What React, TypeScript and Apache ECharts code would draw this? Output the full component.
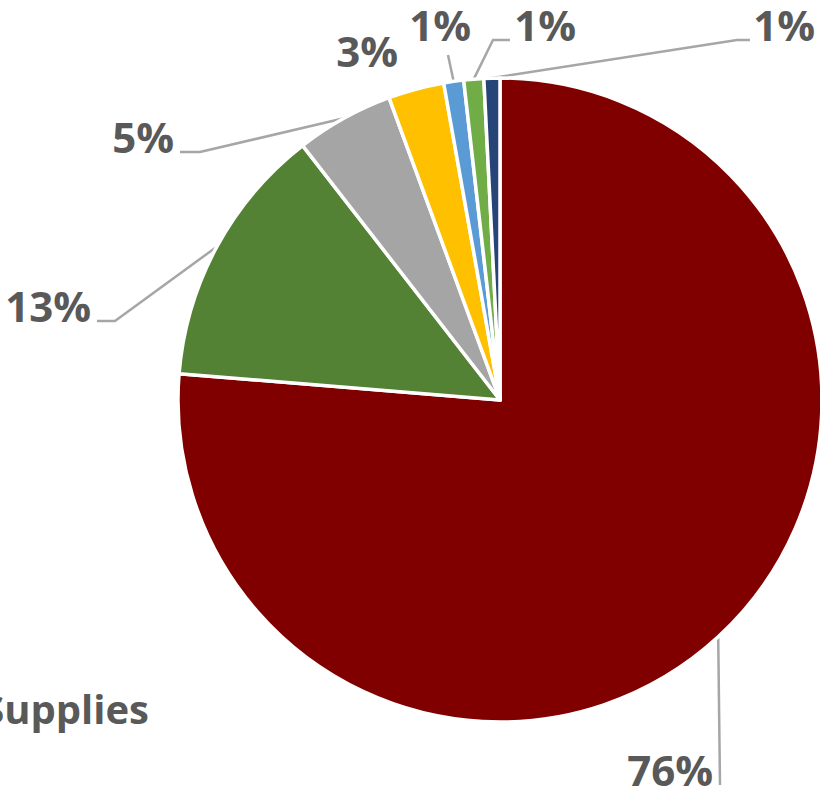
import React, { useEffect, useRef } from "react";
import * as echarts from "echarts";

const categories = ["A", "B", "C", "D", "E", "F", "G"];
const values = [76.3, 13.2, 4.9, 2.8, 1.0, 1.0, 0.8];
const colors = ["#800000", "#548235", "#a5a5a5", "#ffc000", "#5b9bd5", "#70ad47", "#264478"];

// label layout: [rightX, midY, bendPoints]
const labelPos: { x: number; y: number; pts: number[][] | null }[] = [
  { x: 713, y: 769, pts: [[720, 785], [720, 785]] },
  { x: 91, y: 305, pts: [[115, 321], [97, 321]] },
  { x: 174, y: 136, pts: [[200, 152], [180, 152]] },
  { x: 398, y: 50, pts: null },
  { x: 471, y: 24, pts: [[448, 55], [448, 55]] },
  { x: 576, y: 24, pts: [[493, 40], [510, 40]] },
  { x: 815, y: 24, pts: [[737, 40], [750, 40]] },
];

export default function App() {
  const ref = useRef<HTMLDivElement>(null);
  useEffect(() => {
    const chart = echarts.init(ref.current!, null, { renderer: "svg" });
    const total = values.reduce((a, b) => a + b, 0);
    chart.setOption({
      animation: false,
      backgroundColor: "#ffffff",
      graphic: [
        {
          type: "text",
          x: 149,
          y: 708,
          style: {
            text: "Supplies",
            textAlign: "right",
            textVerticalAlign: "middle",
            font: "bold 40px 'Open Sans'",
            fill: "#595959",
          },
        },
      ],
      series: [
        {
          type: "pie",
          center: [500, 400],
          radius: 322,
          startAngle: 90,
          clockwise: true,
          avoidLabelOverlap: false,
          itemStyle: { borderColor: "#ffffff", borderWidth: 3.5 },
          label: {
            show: true,
            position: "outside",
            formatter: (p: any) => Math.round((p.value / total) * 100) + "%",
            fontFamily: "'Open Sans'",
            fontWeight: "bold",
            fontSize: 42,
            lineHeight: 34,
            color: "#595959",
          },
          labelLine: {
            show: true,
            lineStyle: { color: "#a6a6a6", width: 2.5 },
          },
          labelLayout: (params: any) => {
            const lp = labelPos[params.dataIndex];
            const start = params.labelLinePoints ? params.labelLinePoints[0] : [0, 0];
            return {
              x: lp.x,
              y: lp.y,
              align: "right",
              verticalAlign: "middle",
              labelLinePoints: lp.pts ? [start, lp.pts[0], lp.pts[1]] : [start, start, start],
            };
          },
          data: categories.map((c, i) => ({
            name: c,
            value: values[i],
            itemStyle: { color: colors[i] },
            labelLine: { show: labelPos[i].pts !== null },
          })),
        },
      ],
    });
    return () => chart.dispose();
  }, []);
  return (
    <div
      ref={ref}
      style={{ position: "fixed", left: 0, top: 0, width: 820, height: 792 }}
    />
  );
}
